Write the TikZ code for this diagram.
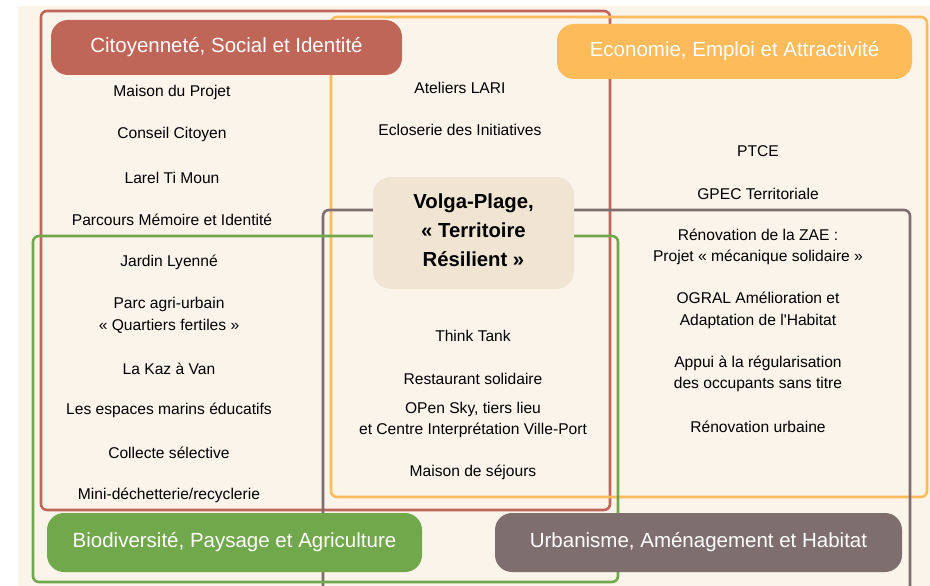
\documentclass[tikz,border=0pt]{standalone}
\usepackage{fontspec}
\setmainfont{Liberation Sans}
\definecolor{citred}{RGB}{192,102,88}
\definecolor{ecoorange}{RGB}{253,187,90}
\definecolor{biogreen}{RGB}{112,168,75}
\definecolor{urbgray}{RGB}{127,110,110}
\definecolor{cream}{RGB}{250,244,235}
\definecolor{sand}{RGB}{240,228,210}
\tikzset{frame/.style = {line width=2.6pt, rounded corners=6pt}}
\tikzset{theme/.style = {rounded corners=17pt, text=white, inner sep=0pt, font=\fontsize{20.5}{24}\selectfont}}
\tikzset{item/.style = {align=center, inner sep=0pt, yshift=-1.5pt, font=\fontsize{15.6}{21.5}\selectfont}}

\begin{document}
\begin{tikzpicture}[x=1pt, y=-1pt]
      \useasboundingbox (0,0) rectangle (930,586);
      \clip (0,0) rectangle (930,586);
      \fill [cream] (18,6) rectangle (930,586);
      \draw [frame, citred] (41,11) rectangle (610,510);
      \draw [frame, ecoorange] (331,17) rectangle (927,497);
      \draw [frame, urbgray] (323,210) rectangle (910,620);
      \draw [frame, biogreen] (33,236) rectangle (618,582);
      \node [theme, fill=citred, minimum width=351pt, minimum height=55pt] (citoyen) at (226.5,47.5) {Citoyenneté, Social et Identité};
      \node [theme, fill=ecoorange, minimum width=355pt, minimum height=55pt] (economie) at (734.5,51.5) {Economie, Emploi et Attractivité};
      \node [theme, fill=biogreen, minimum width=375pt, minimum height=59pt] (biodiv) at (234.5,542.5) {Biodiversité, Paysage et Agriculture};
      \node [theme, fill=urbgray, minimum width=407pt, minimum height=59pt] (urbanisme) at (698.5,542.5) {Urbanisme, Aménagement et Habitat};
      \node [fill=sand, rounded corners=18pt, minimum width=201pt, minimum height=112pt] (volgabox) at (473.5,233) {};
      \node [align=center, inner sep=0pt, font=\bfseries\fontsize{20.3}{29}\selectfont] (volga) at (473.5,230) {Volga-Plage,\\« Territoire\\Résilient »};
      \node [item] (maison) at (172,91) {Maison du Projet};
      \node [item] (conseil) at (172,133) {Conseil Citoyen};
      \node [item] (larel) at (172,176) {Larel Ti Moun};
      \node [item] (parcours) at (172,218) {Parcours Mémoire et Identité};
      \node [item] (jardin) at (169,261) {Jardin Lyenné};
      \node [item] (parc) at (169,314) {Parc agri-urbain\\« Quartiers fertiles »};
      \node [item] (kaz) at (169,367) {La Kaz à Van};
      \node [item] (marins) at (169,409) {Les espaces marins éducatifs};
      \node [item] (collecte) at (169,451) {Collecte sélective};
      \node [item] (dechetterie) at (169,494) {Mini-déchetterie/recyclerie};
      \node [item] (ateliers) at (460,86) {Ateliers LARI};
      \node [item] (ecloserie) at (460,128) {Ecloserie des Initiatives};
      \node [item] (think) at (473,334) {Think Tank};
      \node [item] (restaurant) at (473,377) {Restaurant solidaire};
      \node [item] (opensky) at (473,418.5) {OPen Sky, tiers lieu\\et Centre Interprétation Ville-Port};
      \node [item] (sejours) at (473,471) {Maison de séjours};
      \node [item] (ptce) at (758,150) {PTCE};
      \node [item] (gpec) at (758,192) {GPEC Territoriale};
      \node [item] (zae) at (758,245.5) {Rénovation de la ZAE :\\Projet « mécanique solidaire »};
      \node [item] (ogral) at (758,309) {OGRAL Amélioration et\\Adaptation de l\textquotesingle Habitat};
      \node [item] (appui) at (758,372.5) {Appui à la régularisation\\des occupants sans titre};
      \node [item] (renovation) at (758,425) {Rénovation urbaine};
    \end{tikzpicture}
\end{document}
